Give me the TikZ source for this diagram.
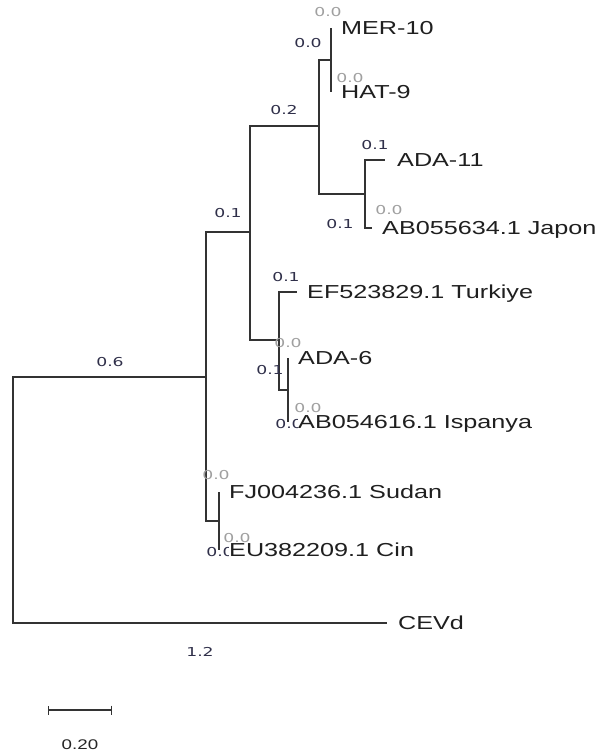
\documentclass[tikz,border=0pt]{standalone}
\usepackage{fontspec}
\usepackage{tikz}
\usepackage{xcolor}
\usetikzlibrary{arrows.meta,positioning}
\newfontfamily\taxonfont[FakeStretch=1.34]{Liberation Sans}
\newfontfamily\lenfont[FakeStretch=1.4]{DejaVu Sans}
\definecolor{branchgray}{HTML}{333333}
\definecolor{lendark}{HTML}{30304A}
\definecolor{lenlight}{HTML}{A0A0A0}
\tikzset{
    branch/.style={draw=branchgray, line width=1.3pt},
    taxon/.style={anchor=west, inner sep=0pt, fill=white, text=black!88, font=\taxonfont\fontsize{18.8}{20}\selectfont, text height=16.9pt, text depth=3.4pt},
    blen/.style={inner sep=0pt, text=lendark, font=\lenfont\fontsize{12.3}{13}\selectfont},
    blenzero/.style={blen, text=lenlight},
    scalebar/.style={draw=branchgray, line width=1.1pt, {Bar[width=9pt]}-{Bar[width=9pt]}},
    scaletext/.style={inner sep=0pt, text=black!85, font=\taxonfont\fontsize{14}{15}\selectfont}
}
\begin{document}
\begin{tikzpicture}[x=1pt, y=-1pt, node distance=10pt]
\useasboundingbox (0,0) rectangle (597,755);

% Inner nodes of the tree
\coordinate (root) at (13,500);
\coordinate (nA) at (206,377);
\coordinate (nB) at (250,232);
\coordinate (nC) at (319,126);
\coordinate (nD) at (331,60);
\coordinate (nE) at (365,194);
\coordinate (nF) at (279,340);
\coordinate (nG) at (288,390);
\coordinate (nH) at (219,521);

% Tips
\coordinate (tMER) at (331,28);
\coordinate (tHAT) at (331,92);
\coordinate (tADAe) at (385,160);
\coordinate (tJAP) at (372,228);
\coordinate (tTUR) at (297,292);
\coordinate (tADAf) at (288,358);
\coordinate (tISP) at (288,422);
\coordinate (tSUD) at (219,492);
\coordinate (tCIN) at (219,550);
\coordinate (tCEV) at (387,623);

% Branches
\draw[branch] (root) |- (nA);
\draw[branch] (root) |- (tCEV);
\draw[branch] (nA) |- (nB);
\draw[branch] (nA) |- (nH);
\draw[branch] (nB) |- (nC);
\draw[branch] (nB) |- (nF);
\draw[branch] (nC) |- (nD);
\draw[branch] (nC) |- (nE);
\draw[branch] (nD) |- (tMER);
\draw[branch] (nD) |- (tHAT);
\draw[branch] (nE) |- (tADAe);
\draw[branch] (nE) |- (tJAP);
\draw[branch] (nF) |- (tTUR);
\draw[branch] (nF) |- (nG);
\draw[branch] (nG) |- (tADAf);
\draw[branch] (nG) |- (tISP);
\draw[branch] (nH) |- (tSUD);
\draw[branch] (nH) |- (tCIN);

% Branch lengths
\node[blen] (b06) at (110,362) {0.6};
\node[blen] (b12) at (200,652) {1.2};
\node[blen] (bAB) at (228,213) {0.1};
\node[blen] (bBC) at (284,110) {0.2};
\node[blen] (bCD) at (308,43) {0.0};
\node[blen] (bADAe) at (375,145) {0.1};
\node[blen] (bCE) at (340,224) {0.1};
\node[blen] (bTUR) at (286,277) {0.1};
\node[blen] (bFG) at (270,370) {0.1};
\node[blen] (bISP) at (289,424) {0.0};
\node[blen] (bCIN) at (220,552) {0.0};

% Taxa
\node[taxon, right=of tMER] (lMER) {MER-10};
\node[taxon, right=of tHAT] (lHAT) {HAT-9};
\node[taxon, right=12pt of tADAe] (lADAe) {ADA-11};
\node[taxon, right=of tJAP] (lJAP) {AB055634.1 Japon};
\node[taxon, right=of tTUR] (lTUR) {EF523829.1 Turkiye};
\node[taxon, right=of tADAf] (lADAf) {ADA-6};
\node[taxon, right=of tISP] (lISP) {AB054616.1 Ispanya};
\node[taxon, right=of tSUD] (lSUD) {FJ004236.1 Sudan};
\node[taxon, right=of tCIN] (lCIN) {EU382209.1 Cin};
\node[taxon, right=11pt of tCEV] (lCEV) {CEVd};

% Zero-length branches
\node[blenzero] (zMER) at (328,12) {0.0};
\node[blenzero] (zHAT) at (350,78) {0.0};
\node[blenzero] (zJAP) at (389,210) {0.0};
\node[blenzero] (zADAf) at (288,343) {0.0};
\node[blenzero] (zISP) at (308,408) {0.0};
\node[blenzero] (zSUD) at (216,475) {0.0};
\node[blenzero] (zCIN) at (237,538) {0.0};

% Scale bar
\coordinate (sbL) at (48,710);
\coordinate (sbR) at (112,710);
\draw[scalebar] (sbL) -- (sbR);
\node[scaletext] (sbT) at (80,745) {0.20};

\end{tikzpicture}
\end{document}
